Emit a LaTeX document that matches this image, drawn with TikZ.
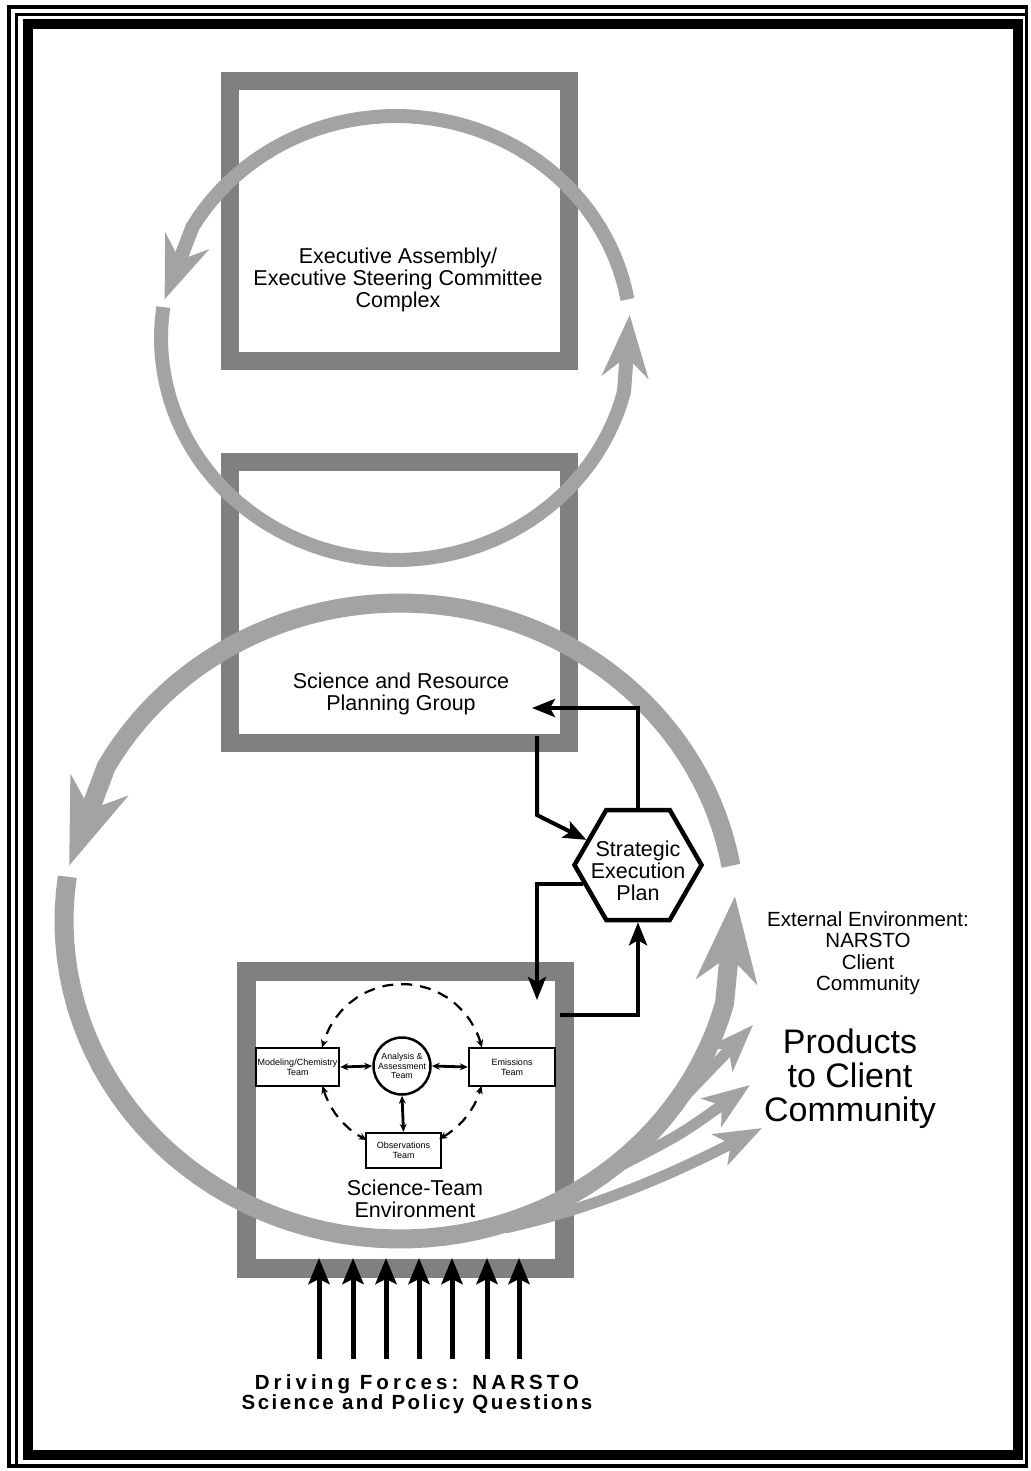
\documentclass[tikz,border=0pt]{standalone}
\usepackage{fontspec}
\setmainfont{Liberation Sans}
\usetikzlibrary{arrows.meta,shapes.geometric,calc}
\definecolor{boxgray}{RGB}{128,128,128}
\definecolor{loopgray}{RGB}{163,163,163}
\begin{document}
\begin{tikzpicture}[x=1pt,y=-1pt,
  graybox/.style={draw=boxgray, line width=18.6pt, minimum width=339pt, minimum height=280pt, inner sep=0pt},
  loopA/.style={draw=loopgray, line width=14pt},
  loopB/.style={draw=loopgray, line width=19pt},
  branch/.style={draw=loopgray, line width=11pt, -{Stealth[length=47pt,width=34pt,inset=12pt]}},
  tipA/.style={-{Stealth[length=62pt,width=46pt,inset=20pt]}},
  tipB/.style={-{Stealth[length=85pt,width=60pt,inset=25pt]}},
  tbox/.style={draw, line width=2.4pt, inner sep=0pt, align=center, font=\fontsize{9}{10}\selectfont},
  small/.style={inner sep=0pt, align=center, font=\fontsize{8.8}{9.3}\selectfont},
  dasharc/.style={line width=2.2pt, dash pattern=on 11pt off 8pt, {Stealth[length=8pt,width=7pt]}-{Stealth[length=8pt,width=7pt]}},
  inarr/.style={line width=2.8pt, {Stealth[length=8pt,width=7pt]}-{Stealth[length=8pt,width=7pt]}},
  conn/.style={line width=4pt, -{Stealth[length=23pt,width=18pt,inset=5pt]}},
  upar/.style={line width=5pt, -{Stealth[length=26pt,width=21pt,inset=5pt]}},
  hexa/.style={regular polygon, regular polygon sides=6, minimum size=127pt, draw, line width=4.5pt, inner sep=0pt, fill=white},
  lbl/.style={align=center, inner sep=0pt, font=\fontsize{21.5}{22}\selectfont}
]
\useasboundingbox (0,0) rectangle (1030,1471);
\fill[white] (0,0) rectangle (1030,1471);
% frame
\draw[line width=3.5pt] (9,7) rectangle (1026.5,1466);
\draw[line width=3.3pt] (16.7,1466) -- (16.7,14.7) -- (1026.5,14.7);
\draw[line width=10pt] (28.3,23.7) rectangle (1017.7,1455);

% boxes
\node[graybox] (ex) at (399.5,221) {};
\node[graybox, minimum height=281pt] (sr) at (399.5,602.5) {};
\node[graybox, minimum width=318pt, minimum height=297pt, line width=19pt] (st) at (405,1119.5) {};

% upper loop
\draw[loopA, tipA] plot[domain=10:150, samples=50] ({396+235*cos(\x)},{338-222*sin(\x)})
   -- ({396+235*cos(170)},{338-222*sin(170)});
\draw[loopA, tipA] plot[domain=172:346, samples=60] ({396+235*cos(\x)},{338-222*sin(\x)})
   -- ({396+235*cos(366)},{338-222*sin(366)});
% lower loop
\draw[loopB, tipB] plot[domain=10:151, samples=60] ({400+336*cos(\x)},{921-318*sin(\x)})
   -- ({400+336*cos(170)},{921-318*sin(170)});
\draw[loopB, tipB] plot[domain=172:345, samples=60] ({400+336*cos(\x)},{921-318*sin(\x)})
   -- ({400+336*cos(364.5)},{921-318*sin(364.5)});
% branches to products
\draw[branch] (656,1126) -- (753,1025);
\draw[branch] (608,1172) .. controls (680,1135) .. (750,1085);
\draw[branch] (505,1228) .. controls (600,1207) and (680,1170) .. (762,1128);

% science team interior
\node[tbox, minimum width=83pt, minimum height=38pt] (mod) at (297.5,1067) {Modeling/Chemistry\\Team};
\node[tbox, minimum width=86pt, minimum height=38pt] (emi) at (512,1067) {Emissions\\Team};
\node[tbox, minimum width=75pt, minimum height=35pt] (obs) at (403.5,1150.5) {Observations\\Team};
\node[circle, draw, line width=2.5pt, minimum size=57pt, inner sep=0pt] (ana) at (402,1066) {};
\node[small] (anatext) at (402,1066) {Analysis \&\\Assessment\\Team};
\draw[dasharc] plot[domain=13:167, samples=22] ({402+82*cos(\x)},{1066-82*sin(\x)});
\draw[dasharc] plot[domain=194:244.5, samples=8] ({402+82*cos(\x)},{1066-82*sin(\x)});
\draw[dasharc] plot[domain=297:346, samples=8] ({402+82*cos(\x)},{1066-82*sin(\x)});
\draw[inarr] (mod.east) -- (ana.west);
\draw[inarr] (emi.west) -- (ana.east);
\draw[inarr] (obs.north) -- (ana.south);

% hexagon
\node[hexa] (sep) at (638,865) {};
\node[lbl] (septext) at (638,871) {Strategic\\Execution\\Plan};

% black connectors
\coordinate (srin) at (532,708);
\coordinate (srout) at (537,736);
\coordinate (bendA) at (537,815);
\coordinate (stin) at (537,1000);
\coordinate (stout) at (560,1015);
\draw[conn] (sep.north) |- (srin);
\draw[conn] (srout) -- (bendA) -- (sep.154);
\draw[conn] (sep.199) -| (stin);
\draw[conn] (stout) -| (sep.south);

% driving forces arrows
\foreach \x in {319,353,386,419,452,487,519}
  \draw[upar] (\x,1359) -- (\x,1258);

% texts
\node[lbl] (extext) at (398,280) {Executive Assembly/\\Executive Steering Committee\\Complex};
\node[lbl] (srtext) at (401,694) {Science and Resource\\Planning Group};
\node[lbl] (sttext) at (415,1199) {Science-Team\\Environment};
\node[align=center, inner sep=0pt, font=\fontsize{20.5}{21.5}\selectfont] (envtext) at (868,953)
  {External Environment:\\NARSTO\\Client\\Community};
\node[align=center, inner sep=0pt, font=\fontsize{34}{34}\selectfont] (prodtext) at (850,1079)
  {Products\\to Client\\Community};
\node[align=center, inner sep=0pt, font={\fontsize{20.5}{18}\selectfont\bfseries}] (drv) at (417,1394)
  {{\addfontfeatures{LetterSpace=20}Driving Forces:\hspace{14pt}NARSTO}\\{\addfontfeatures{LetterSpace=12}Science and Policy Questions}};
\end{tikzpicture}
\end{document}
